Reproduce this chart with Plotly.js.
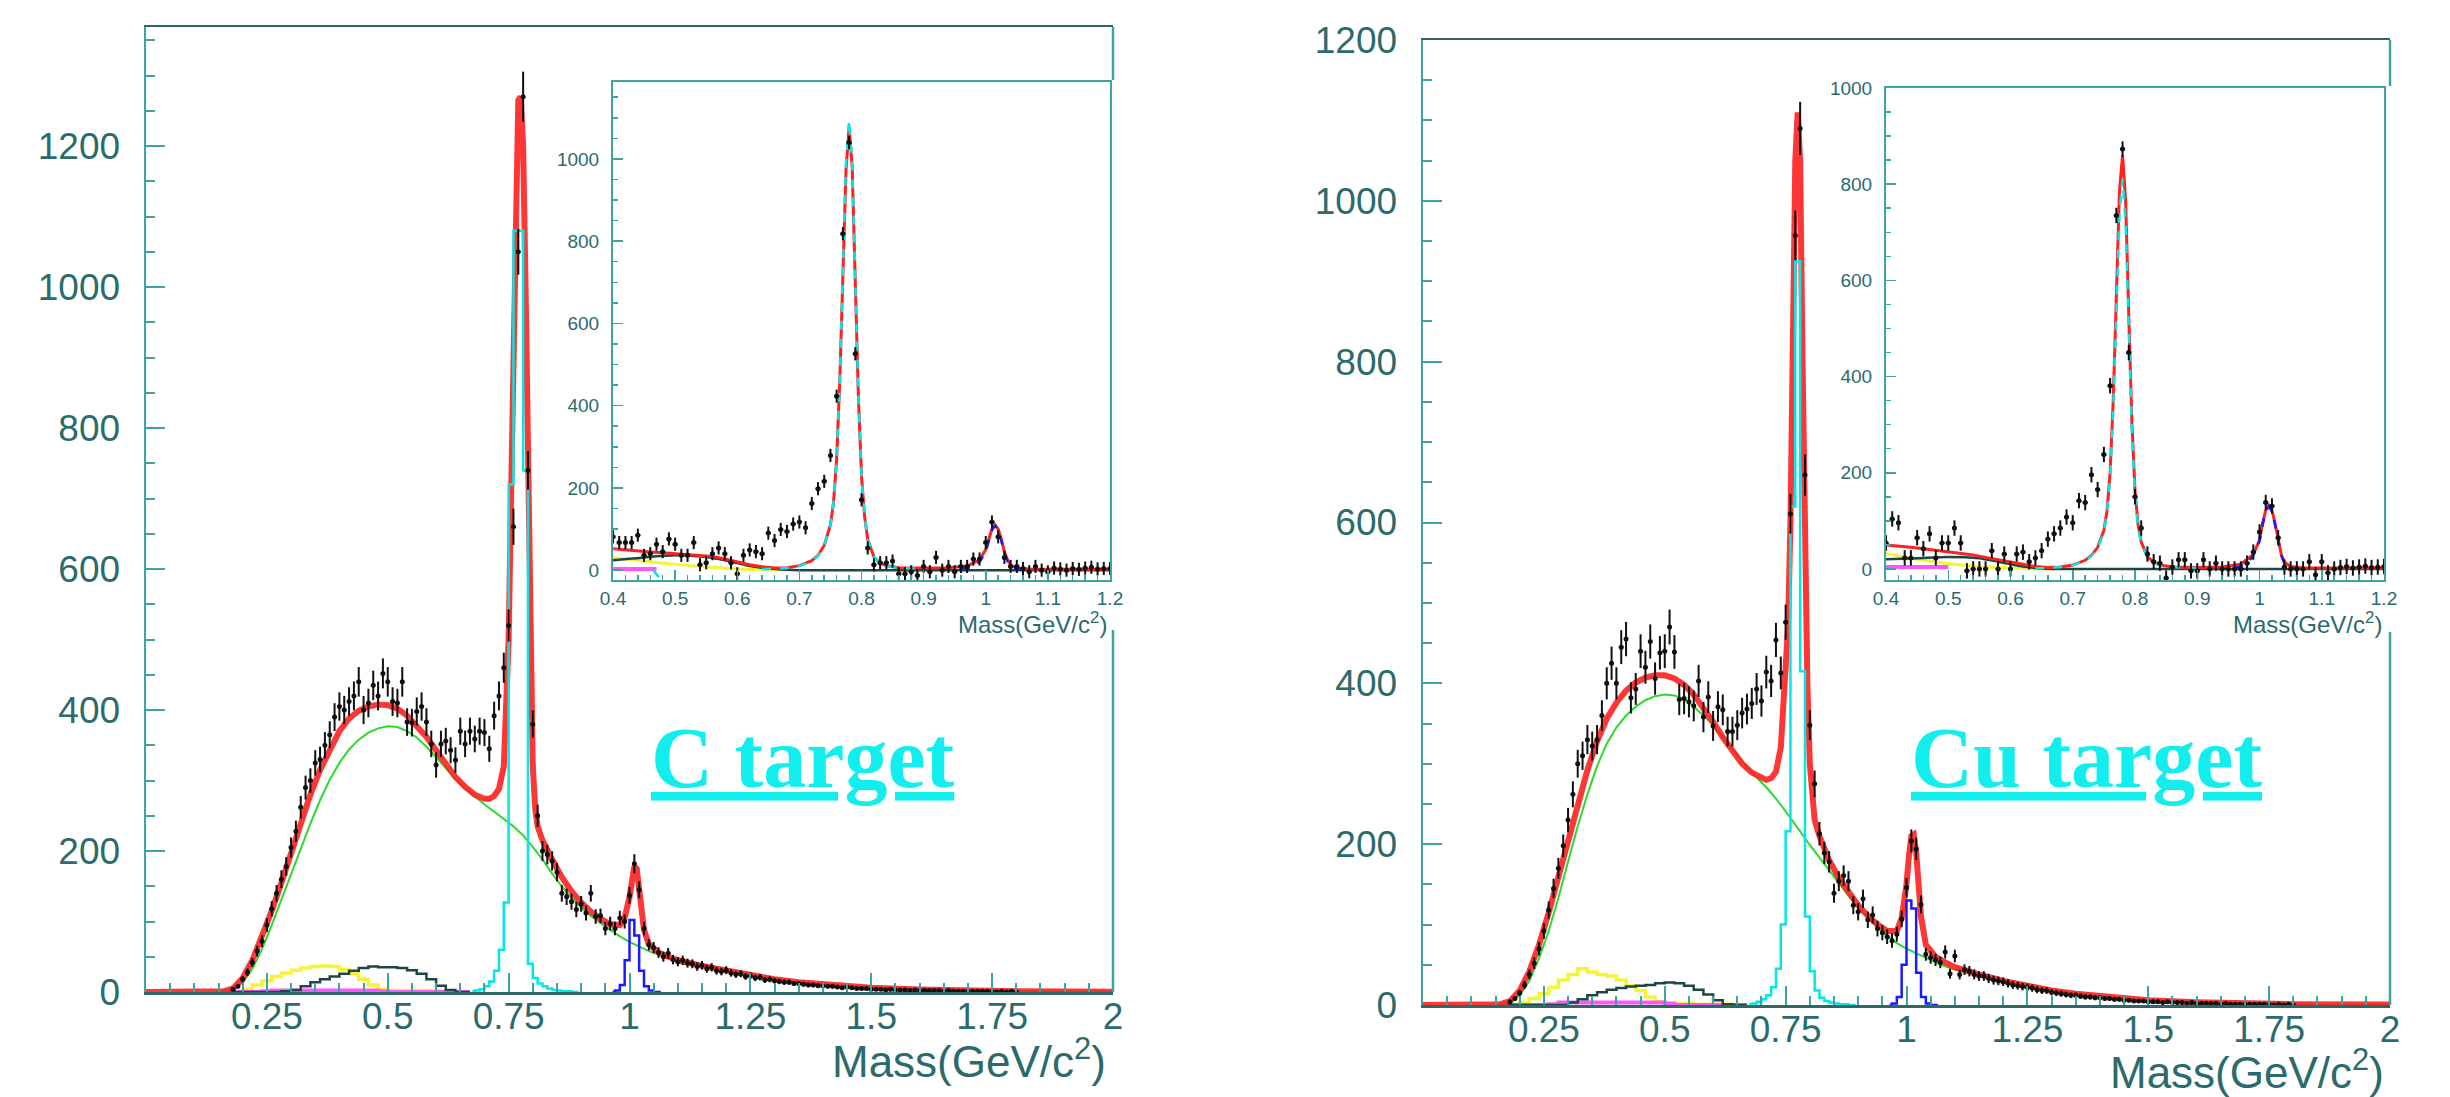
<!DOCTYPE html>
<html><head><meta charset="utf-8">
<script src="https://cdn.plot.ly/plotly-3.0.1.min.js"></script>
<style>html,body{margin:0;padding:0;background:#fff;}#chart{width:2450px;height:1097px;}</style>
</head><body><div id="chart"></div>
<script>
// ---------------- DATA ----------------
const massMain = [0.18,0.19,0.20,0.21,0.22,0.23,0.24,0.25,0.26,0.27,
0.28,0.29,0.30,0.31,0.32,0.33,0.34,0.35,0.36,0.37,
0.38,0.39,0.40,0.41,0.42,0.43,0.44,0.45,0.46,0.47,
0.48,0.49,0.50,0.51,0.52,0.53,0.54,0.55,0.56,0.57,
0.58,0.59,0.60,0.61,0.62,0.63,0.64,0.65,0.66,0.67,
0.68,0.69,0.70,0.71,0.72,0.73,0.74,0.75,0.76,0.77,
0.78,0.79,0.80,0.81,0.82,0.83,0.84,0.85,0.86,0.87,
0.88,0.89,0.90,0.91,0.92,0.93,0.94,0.95,0.96,0.97,
0.98,0.99,1.00,1.01,1.02,1.03,1.04,1.05,1.06,1.07,
1.08,1.09,1.10,1.11,1.12,1.13,1.14,1.15,1.16,1.17,
1.18,1.19,1.20,1.21,1.22,1.23,1.24,1.25,1.26,1.27,
1.28,1.29,1.30,1.31,1.32,1.33,1.34,1.35,1.36,1.37,
1.38,1.39,1.40,1.41,1.42,1.43,1.44,1.45,1.46,1.47,
1.48,1.49,1.50,1.51,1.52,1.53,1.54,1.55,1.56,1.57,
1.58,1.59,1.60,1.61,1.62,1.63,1.64,1.65,1.66,1.67,
1.68,1.69,1.70,1.71,1.72,1.73,1.74,1.75,1.76,1.77,
1.78,1.79,1.80];

const countsC = [4,8,18,28,42,58,72,95,118,140,
160,178,205,228,262,290,300,325,330,350,
365,390,405,400,412,420,440,400,410,435,
420,452,440,412,410,440,383,382,398,405,
383,352,322,352,356,343,329,370,352,370,
359,370,368,345,392,420,460,520,660,1050,
1270,740,380,250,200,195,186,170,140,135,
128,117,125,112,140,107,108,90,97,90,
105,100,137,182,145,90,67,63,56,50,
55,46,43,45,41,40,36,38,33,35,
30,29,31,27,25,26,22,23,20,21,
17,18,16,15,14,14,12,12,11,10,
10,9,9,8,8,7,6,7,6,5,
5,5,4,4,4,3,4,3,3,3,
2,3,2,2,2,2,2,1,2,1,
1,1,1,1,1,1,1,1,0,1,
0,1,0];

const countsCu = [4,8,15,25,38,52,70,92,118,145,
170,198,230,262,300,310,330,322,330,360,
400,425,400,445,455,382,393,440,420,452,
406,438,440,470,439,380,381,377,372,403,
358,383,347,371,367,340,340,348,363,368,
375,393,378,414,403,454,413,476,611,957,
1090,659,348,275,213,189,178,139,154,161,
154,124,116,132,106,112,95,90,85,80,
88,107,146,204,194,125,63,59,56,53,
66,39,61,38,44,42,38,36,36,33,
31,30,29,27,25,24,23,22,21,19,
18,18,16,15,14,13,12,12,11,10,
10,9,9,8,8,7,7,6,6,5,
5,5,4,4,4,3,4,3,3,3,
2,3,2,2,2,2,2,1,2,1,
1,1,1,1,1,1,1,1,0,1,
0,1,0];

const greenMass = [0.14,0.16,0.18,0.20,0.22,0.24,0.26,0.28,0.30,0.32,
0.34,0.36,0.38,0.40,0.42,0.44,0.46,0.48,0.50,0.52,
0.54,0.56,0.58,0.60,0.62,0.64,0.66,0.68,0.70,0.72,
0.74,0.76,0.78,0.80,0.82,0.84,0.86,0.88,0.90,0.92,
0.94,0.96,0.98,1.00,1.02,1.04,1.06,1.08,1.10,1.12,
1.14,1.16,1.18,1.20,
1.25,1.30,1.35,1.40,1.45,1.50,1.55,1.60,1.65,1.70,1.75,1.80,1.85,1.90,1.95,2.00];
const greenC = [0,1,4,13,33,61,95,131,167,203,
239,272,301,325,344,358,368,374,377,376,
370,361,348,333,317,302,289,277,266,256,
246,235,222,206,188,168,150,134,120,108,
98,88,79,71,64,58,53,48,44,41,
38,35,32,29,
23,18,14,11,8,6,5,4,3,2,1.5,1,1,0.5,0.5,0.3];
const greenCu = [0,1,3,12,30,58,92,133,178,222,
262,297,325,345,360,371,379,384,386,385,
380,371,360,348,333,318,303,289,277,264,
249,233,216,199,183,167,151,136,121,108,
96,86,77,70,64,58,53,48,44,41,
38,35,32,29,
23,18,14,11,8,6,5,4,3,2,1.5,1,1,0.5,0.5,0.3];

const redMass = [0.00,0.14,0.16,0.18,0.20,0.22,0.24,0.26,0.28,0.30,
0.32,0.34,0.36,0.38,0.40,0.42,0.44,0.46,0.48,0.50,
0.52,0.54,0.56,0.58,0.60,0.62,0.64,0.66,0.68,0.70,
0.71,0.72,0.73,0.74,0.75,0.755,0.76,0.765,0.77,0.775,
0.78,0.785,0.79,0.795,0.80,0.805,0.81,0.82,0.83,0.84,
0.86,0.88,0.90,0.92,0.94,0.96,0.98,0.99,1.00,1.005,
1.01,1.015,1.02,1.025,1.03,1.04,1.06,1.08,1.10,1.15,
1.20,1.25,1.30,1.35,1.40,1.45,1.50,1.60,1.70,1.80,2.00];
const redC = [0,0,1,5,20,45,78,115,155,198,
240,280,315,345,370,388,399,405,408,407,
402,392,378,362,343,323,305,291,280,274,
274,278,288,320,500,700,920,1150,1265,1270,
1200,1000,720,470,320,260,235,215,200,188,
163,143,127,114,104,96,95,105,135,160,
178,175,150,115,88,68,56,50,45,37,
30,24,18,14,11,8,6,3.5,2,1,0.5];
const redCu = [0,0,1,5,18,42,75,115,160,205,
250,292,328,356,376,391,401,407,410,410,
406,398,386,370,352,333,315,300,289,282,
280,282,290,320,420,470,600,850,1050,1110,
1050,800,560,400,300,250,230,210,194,180,
158,140,124,111,100,92,92,108,150,185,
210,212,190,150,110,75,60,53,47,38,
30,24,18,14,11,8,6,3.5,2,1,0.5];

const omegaMass = [0.675,0.685,0.695,0.705,0.715,0.725,0.735,0.745,0.755,0.765,
0.775,0.785,0.795,0.805,0.815,0.825,0.835,0.845,0.855,0.865,0.875,0.885,0.895];
const omegaC  = [1,2,4,8,15,30,60,127,720,1080,1080,740,40,20,12,8,5,3,2,1,1,0,0];
const omegaCu = [1,2,4,7,12,22,45,100,216,620,925,415,110,42,18,9,5,3,2,1,1,0,0];

const phiMass = [0.965,0.975,0.985,0.995,1.005,1.015,1.025,1.035,1.045,1.055,1.065];
const phiC  = [0,2,10,45,102,80,30,8,2,0,0];
const phiCu = [0,2,10,50,130,120,40,10,2,0,0];

const compMass = [0.17,0.19,0.21,0.23,0.25,0.27,0.29,0.31,0.33,0.35,0.37,0.39,0.41,
0.43,0.45,0.47,0.49,0.51,0.53,0.55,0.57,0.59,0.61,0.63,0.65,0.67];
const yellowC  = [0,0,4,10,16,22,27,31,34,36,37,36,32,26,18,10,4,2,2,2,2,2,2,1,0,0];
const darkC    = [0,0,0,0,0,0,1,3,8,14,18,22,26,30,34,36,35,35,34,31,26,18,9,3,0,0];
const magentaC = [0,0,0,0,1,2,2,2,2,2,2,2,2,2,2,2,1,0,0,0,0,0,0,0,0,0];
const yellowCu = [0,0,3,8,14,22,31,38,45,41,38,36,31,24,18,10,4,2,2,2,1,1,1,1,0,0];
const darkCu   = [0,0,0,0,0,0,0,3,7,12,16,19,21,23,24,25,27,28,27,24,19,13,6,1,0,0];
const magentaCu= [0,0,0,0,0,1,3,3,3,3,3,3,3,3,3,3,3,2,0,0,0,0,0,0,0,0];

// inset data (0.40 - 1.20)
const massInset = [0.40,0.41,0.42,0.43,0.44,0.45,0.46,0.47,0.48,0.49,
0.50,0.51,0.52,0.53,0.54,0.55,0.56,0.57,0.58,0.59,
0.60,0.61,0.62,0.63,0.64,0.65,0.66,0.67,0.68,0.69,
0.70,0.71,0.72,0.73,0.74,0.75,0.76,0.77,0.78,0.79,
0.80,0.81,0.82,0.83,0.84,0.85,0.86,0.87,0.88,0.89,
0.90,0.91,0.92,0.93,0.94,0.95,0.96,0.97,0.98,0.99,
1.00,1.01,1.02,1.03,1.04,1.05,1.06,1.07,1.08,1.09,
1.10,1.11,1.12,1.13,1.14,1.15,1.16,1.17,1.18,1.19,1.20];
const insetC = [81,67,67,67,85,36,40,63,45,76,
63,36,36,67,13,18,40,54,40,18,
-9,36,49,45,40,90,72,99,94,112,
117,103,162,198,216,279,423,818,1040,526,
171,54,13,18,18,22,-9,-9,-4,-13,
9,-4,31,0,9,-4,9,9,27,27,
67,117,81,31,9,9,4,-4,9,0,
-4,5,3,0,4,2,5,7,3,4,4];
const insetCu = [54,104,96,23,23,65,42,73,23,54,
54,85,54,-4,0,0,0,38,0,31,
0,31,35,15,23,38,62,73,85,108,
96,142,138,196,165,238,381,735,873,450,
150,85,31,15,12,-19,4,19,19,-4,
-4,19,0,12,0,0,0,0,12,35,
77,138,131,65,4,0,0,0,15,-12,
15,-8,0,3,5,2,4,6,3,4,5];

const insetFitMass = [0.40,0.42,0.44,0.46,0.48,0.50,0.52,0.54,0.56,0.58,
0.60,0.62,0.64,0.66,0.68,0.70,0.72,0.73,0.74,0.75,
0.755,0.76,0.765,0.77,0.775,0.78,0.785,0.79,0.795,0.80,
0.805,0.81,0.82,0.83,0.84,0.86,0.90,0.94,0.97,0.99,
1.00,1.005,1.01,1.015,1.02,1.025,1.03,1.035,1.04,1.05,
1.07,1.10,1.20];
const insetRedC = [52,49,47,44,42,40,38,36,33,27,
20,13,8,5,6,11,23,36,60,110,
165,270,460,720,970,1080,980,700,420,230,
130,75,32,17,11,6,5,6,10,25,
50,75,100,110,100,75,45,25,12,5,
3,2,2];
const insetRedCu = [50,48,45,42,39,36,33,29,24,19,
14,9,5,3,4,8,18,28,45,80,
120,200,350,565,785,860,765,525,305,162,
92,56,25,14,8,4,3,4,10,30,
60,95,122,132,122,95,58,30,14,5,
2,2,2];

const insetPeakMass = [0.64,0.66,0.68,0.70,0.72,0.73,0.74,0.75,0.755,0.76,
0.765,0.77,0.775,0.78,0.785,0.79,0.795,0.80,0.805,0.81,
0.82,0.83,0.84,0.86,0.90];
const insetOmegaC  = [2,3,5,10,22,35,60,110,165,270,460,725,985,1095,990,705,420,230,130,75,32,17,10,5,3];
const insetOmegaCu = [1,2,4,8,17,27,43,77,115,190,330,530,740,810,720,495,285,152,86,52,24,13,7,4,2];

const insetPhiMass = [0.96,0.98,0.99,1.00,1.005,1.01,1.015,1.02,1.025,1.03,1.035,1.04,1.05,1.06];
const insetPhiC  = [2,8,20,45,72,98,108,98,72,42,22,10,3,1];
const insetPhiCu = [2,10,28,58,92,120,130,120,92,56,28,12,4,1];

const insetBgMass = [0.40,0.45,0.50,0.55,0.58,0.60,0.62,0.65,0.68,0.70,1.20];
const insetBlackC  = [24,31,36,32,24,17,10,4,1,0,0];
const insetBlackCu = [20,22,25,22,15,10,5,1,0,0,0];

const insetYellowMass = [0.40,0.45,0.50,0.55,0.60,0.65,0.67];
const insetYellowC  = [30,22,14,8,3,1,0];
const insetYellowCu = [32,20,11,5,2,0,0];

const insetMagentaMassC = [0.40,0.47];
const insetMagentaC = [3,3];
const insetMagentaMassCu = [0.40,0.50];
const insetMagentaCu = [4,4];

const omegaTailMassC = [0.465,0.48];
const omegaTailC = [0,-30];

const mainXTicks = [0.25,0.5,0.75,1,1.25,1.5,1.75,2];
const mainXTickText = ['0.25','0.5','0.75','1','1.25','1.5','1.75','2'];
const insetXTicks = [0.4,0.5,0.6,0.7,0.8,0.9,1.0,1.1,1.2];
const insetXTickText = ['0.4','0.5','0.6','0.7','0.8','0.9','1','1.1','1.2'];
const axisTitle = 'Mass(GeV/c<sup>2</sup>)';
const targetLabels = ['C target','Cu target'];

// ---------------- STYLE ----------------
const TEAL = '#3fa3a3', TXT = '#2b6b6b';
const FONT = 'Liberation Sans, Arial, sans-serif';
const COL = {red:'#ff2020', green:'#2ed82e', cyan:'#00e8e8', blue:'#1a1aff',
             yellow:'#f5f536', dark:'#1e4646', magenta:'#ff55ff', pts:'#101010'};

function line(x, y, xa, ya, color, width, opts) {
  opts = opts || {};
  return {type:'scatter', mode:'lines', x:x, y:y, xaxis:xa, yaxis:ya,
    line:{color:color, width:width, shape:opts.shape||'linear', dash:opts.dash||'solid', smoothing:opts.smoothing||1},
    opacity: opts.opacity||1, hoverinfo:'skip', showlegend:false};
}
function points(x, y, xa, ya, err) {
  return {type:'scatter', mode:'markers', x:x, y:y, xaxis:xa, yaxis:ya,
    marker:{color:COL.pts, size:5},
    error_y: err,
    error_x:{type:'constant', value:0.004, thickness:2, width:0, color:COL.pts},
    hoverinfo:'skip', showlegend:false};
}

function mainPanel(xa, ya, green, red, omega, phi, yellow, dark, magenta, counts) {
  return [
    line(greenMass, green, xa, ya, COL.green, 2),
    line(compMass, yellow, xa, ya, COL.yellow, 3.5, {shape:'hvh'}),
    line(compMass, magenta, xa, ya, COL.magenta, 4, {shape:'hvh'}),
    line(compMass, dark, xa, ya, COL.dark, 2.5, {shape:'hvh'}),
    line(redMass, red, xa, ya, COL.red, 6, {opacity:0.9}),
    line(omegaMass, omega, xa, ya, COL.cyan, 2.5, {shape:'hvh'}),
    line(phiMass, phi, xa, ya, COL.blue, 2.5, {shape:'hvh'}),
    points(massMain, counts, xa, ya, {type:'sqrt', thickness:2, width:0, color:COL.pts})
  ];
}
function insetPanel(xa, ya, yellow, magMass, magenta, black, red, omega, phi, counts, extra) {
  const t = [
    line(insetYellowMass, yellow, xa, ya, COL.yellow, 3, {shape:'spline'}),
    line(magMass, magenta, xa, ya, COL.magenta, 4),
    line(insetBgMass, black, xa, ya, COL.dark, 2.5, {shape:'spline', smoothing:0.6}),
    line(insetFitMass, red, xa, ya, COL.red, 3),
    line(insetPeakMass, omega, xa, ya, COL.cyan, 2.5, {dash:'dash'}),
    line(insetPhiMass, phi, xa, ya, COL.blue, 2.5, {dash:'dash'})
  ];
  if (extra) t.push(extra);
  t.push(points(massInset, counts, xa, ya, {type:'constant', value:16, thickness:2, width:0, color:COL.pts}));
  return t;
}

const data = [].concat(
  mainPanel('x','y', greenC, redC, omegaC, phiC, yellowC, darkC, magentaC, countsC),
  insetPanel('x2','y2', insetYellowC, insetMagentaMassC, insetMagentaC, insetBlackC, insetRedC, insetOmegaC, insetPhiC, insetC,
             line(omegaTailMassC, omegaTailC, 'x2','y2', COL.cyan, 2.5, {dash:'dash'})),
  mainPanel('x3','y3', greenCu, redCu, omegaCu, phiCu, yellowCu, darkCu, magentaCu, countsCu),
  insetPanel('x4','y4', insetYellowCu, insetMagentaMassCu, insetMagentaCu, insetBlackCu, insetRedCu, insetOmegaCu, insetPhiCu, insetCu, null)
);

// ---------------- LAYOUT ----------------
const W = 2450, H = 1097;
const px = v => v / W, py = v => 1 - v / H;

function mainX(x0, x1, anchor) {
  return {domain:[px(x0), px(x1)], anchor:anchor, range:[0,2], showline:true, linecolor:'#2f6666', linewidth:2.5, mirror:true,
    ticks:'inside', ticklen:19, tickwidth:2, tickcolor:TEAL, tickmode:'array', tickvals:mainXTicks, ticktext:mainXTickText,
    tickfont:{family:FONT, size:37, color:TXT}, ticklabelstandoff:-10,
    minor:{dtick:0.05, tick0:0, ticks:'inside', ticklen:9, tickwidth:2, tickcolor:TEAL},
    showgrid:false, zeroline:false, fixedrange:true};
}
function mainY(y0, y1, top, anchor) {
  return {domain:[py(y1), py(y0)], anchor:anchor, range:[0, top], showline:true, linecolor:TEAL, linewidth:2.5, mirror:false,
    ticks:'inside', ticklen:19, tickwidth:2, tickcolor:TEAL, tickmode:'linear', tick0:0, dtick:200,
    tickfont:{family:FONT, size:37, color:TXT}, ticklabelstandoff:16,
    minor:{dtick:50, tick0:0, ticks:'inside', ticklen:9, tickwidth:2, tickcolor:TEAL},
    showgrid:false, zeroline:false, fixedrange:true};
}
function insetX(x0, x1, anchor) {
  return {domain:[px(x0), px(x1)], anchor:anchor, range:[0.4,1.2], showline:true, linecolor:TEAL, linewidth:2, mirror:true,
    ticks:'inside', ticklen:10, tickwidth:1.5, tickcolor:TEAL, tickmode:'array', tickvals:insetXTicks, ticktext:insetXTickText,
    tickfont:{family:FONT, size:19, color:TXT}, ticklabelstandoff:0,
    minor:{dtick:0.02, tick0:0.4, ticks:'inside', ticklen:5, tickwidth:1.5, tickcolor:TEAL},
    showgrid:false, zeroline:false, fixedrange:true};
}
function insetY(y0, y1, r, anchor) {
  return {domain:[py(y1), py(y0)], anchor:anchor, range:r, showline:true, linecolor:TEAL, linewidth:2, mirror:true,
    ticks:'inside', ticklen:10, tickwidth:1.5, tickcolor:TEAL, tickmode:'linear', tick0:0, dtick:200,
    tickfont:{family:FONT, size:19, color:TXT}, ticklabelstandoff:8,
    minor:{dtick:50, tick0:0, ticks:'inside', ticklen:5, tickwidth:1.5, tickcolor:TEAL},
    showgrid:false, zeroline:false, fixedrange:true};
}

function vseg(x, y0, y1) {
  return {type:'line', xref:'paper', yref:'paper', x0:px(x), x1:px(x), y0:py(y0), y1:py(y1),
          line:{color:TEAL, width:2.5}, layer:'above'};
}
function annot(text, x, y, size, xanchor) {
  return {text:text, xref:'paper', yref:'paper', x:px(x), y:py(y), xanchor:xanchor, yanchor:'middle',
          showarrow:false, font:{family:FONT, size:size, color:TXT}};
}
function targetAnnot(text, x, y) {
  return {text:text, xref:'paper', yref:'paper', x:px(x), y:py(y), xanchor:'center', yanchor:'middle', showarrow:false,
          font:{family:'Liberation Serif, Times New Roman, serif', size:86, color:'#12eeee', weight:'bold', lineposition:'under'}};
}

const layout = {
  width:W, height:H, margin:{l:0, r:0, t:0, b:0}, paper_bgcolor:'#fff', plot_bgcolor:'#fff',
  font:{family:FONT, color:TXT}, showlegend:false,
  xaxis: mainX(146, 1113, 'y'),   yaxis: mainY(27, 992, 1369, 'x'),
  xaxis2: insetX(613, 1110, 'y2'), yaxis2: insetY(82, 580, [-24, 1187], 'x2'),
  xaxis3: mainX(1423, 2390, 'y3'), yaxis3: mainY(40, 1005, 1200, 'x3'),
  xaxis4: insetX(1886, 2384, 'y4'), yaxis4: insetY(88, 580, [-23, 1000], 'x4'),
  shapes: [vseg(1113, 27, 80), vseg(1113, 630, 992), vseg(2390, 40, 86), vseg(2390, 632, 1005)],
  annotations: [
    annot(axisTitle, 1108, 1058, 44, 'right'),
    annot(axisTitle, 2386, 1069, 44, 'right'),
    annot(axisTitle, 1109, 623, 24, 'right'),
    annot(axisTitle, 2384, 623, 24, 'right'),
    targetAnnot(targetLabels[0], 803, 758),
    targetAnnot(targetLabels[1], 2086, 758)
  ]
};

Plotly.newPlot('chart', data, layout, {displayModeBar:false, staticPlot:true});
</script></body></html>
